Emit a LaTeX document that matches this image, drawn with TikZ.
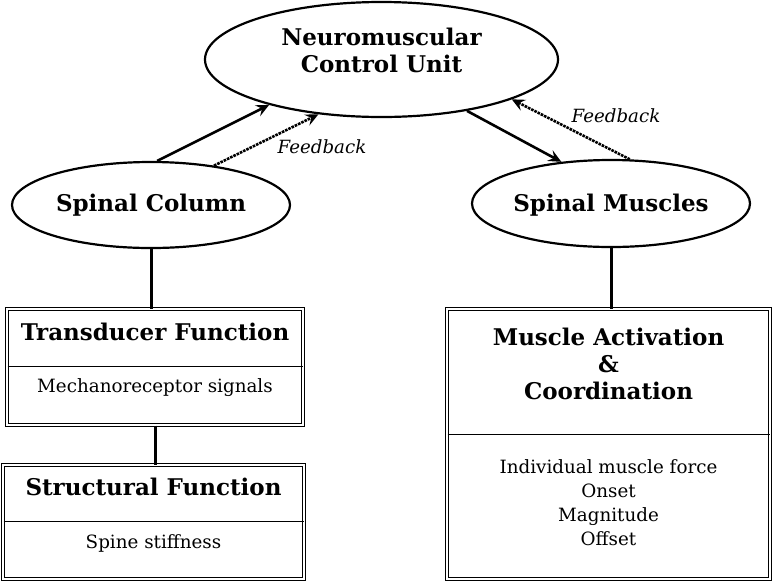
\documentclass[tikz,border=0pt]{standalone}
\usepackage{fontspec}
\setmainfont{DejaVu Serif}
\usetikzlibrary{shapes.geometric, arrows.meta, positioning}

\begin{document}
\begin{tikzpicture}[x=1pt, y=-1pt, >={Stealth[length=13pt, width=12pt, inset=5pt]},
    oval/.style={draw, ellipse, line width=2.2pt, inner sep=0pt},
    panel/.style={draw, double, line width=1pt, double distance=1.8pt, inner sep=0pt},
    head/.style={font=\bfseries\fontsize{23}{27}\selectfont, anchor=base, inner sep=0pt},
    body/.style={font=\fontsize{18.3}{24}\selectfont, anchor=base, inner sep=0pt},
    fb/.style={font=\itshape\fontsize{18.2}{20}\selectfont, anchor=base, inner sep=0pt},
    link/.style={line width=2.6pt},
    sep/.style={line width=0.8pt, shorten <=1pt, shorten >=1pt}]
\useasboundingbox (0,0) rectangle (773,582);

% ovals
\node[oval, minimum width=353pt, minimum height=115pt] (ncu) at (381.5,59.5) {};
\node[head] (ncu1) at (381.5,45) {Neuromuscular};
\node[head] (ncu2) at (381.5,72) {Control Unit};
\node[oval, minimum width=278pt, minimum height=86pt] (col) at (151,205) {};
\node[head] (colt) at (151,211) {Spinal Column};
\node[oval, minimum width=278pt, minimum height=87pt] (mus) at (611,203.5) {};
\node[head] (must) at (611,211) {Spinal Muscles};

% arrows
\draw[->, link] (col.82) -- (ncu.202);
\draw[->, link, densely dotted] (col.32) -- (ncu.221);
\draw[->, link] (ncu.329) -- (mus.140);
\draw[->, link, densely dotted] (mus.67) -- (ncu.343);
\node[fb] (fb1) at (322,153) {Feedback};
\node[fb] (fb2) at (616,122) {Feedback};

% boxes
\node[panel, minimum width=296pt, minimum height=116pt] (trans) at (155,367) {};
\draw[sep] (trans.west |- 0,366) -- (trans.east |- 0,366);
\node[head] (transt) at (155,340) {Transducer Function};
\node[body] (transb) at (155,392.5) {Mechanoreceptor signals};

\node[panel, minimum width=301pt, minimum height=114pt] (struct) at (153.5,522) {};
\draw[sep] (struct.west |- 0,521) -- (struct.east |- 0,521);
\node[head] (structt) at (153.5,495) {Structural Function};
\node[body] (structb) at (153.5,548) {Spine stiffness};

\node[panel, minimum width=323pt, minimum height=270pt] (act) at (608.5,444) {};
\draw[sep] (act.west |- 0,434) -- (act.east |- 0,434);
\foreach \t [count=\i] in {Muscle Activation, \&, Coordination}
    \node[head] (actt\i) at (608.5,318+27*\i) {\t};
\foreach \t [count=\i] in {Individual muscle force, Onset, Magnitude, Offset}
    \node[body] (actb\i) at (608.5,449+24*\i) {\t};

% links
\draw[link, line width=3pt] (col.south) -- (col.south |- trans.north);
\draw[link, line width=3pt] (trans.south) -- (trans.south |- struct.north);
\draw[link, line width=3pt] (mus.south) -- (mus.south |- act.north);

\end{tikzpicture}
\end{document}
